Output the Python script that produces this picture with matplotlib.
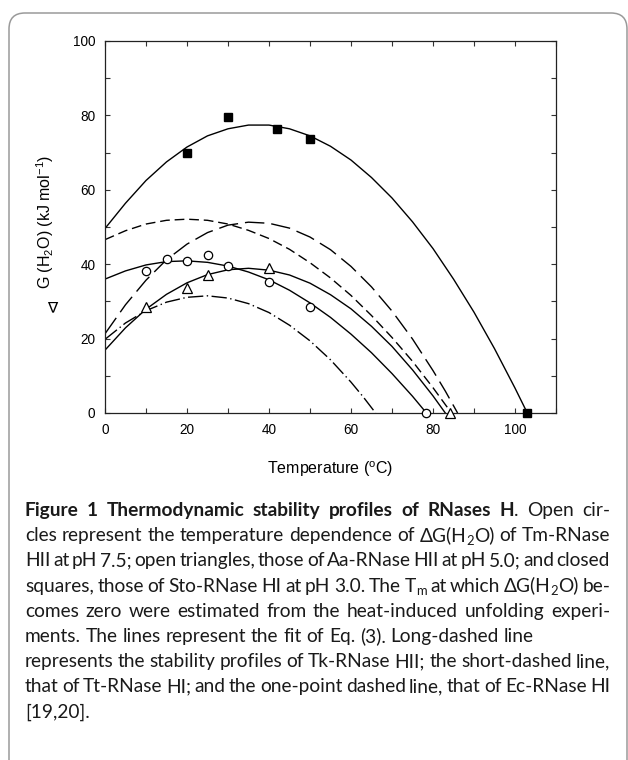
import re
import matplotlib
matplotlib.use("Agg")
import matplotlib.pyplot as plt
from matplotlib.patches import FancyBboxPatch
from matplotlib.transforms import IdentityTransform

plt.rcParams["font.family"] = ["Liberation Sans", "DejaVu Sans"]
plt.rcParams["mathtext.fontset"] = "custom"
plt.rcParams["mathtext.rm"] = "Liberation Sans"
plt.rcParams["mathtext.it"] = "Liberation Sans:italic"
plt.rcParams["mathtext.bf"] = "Liberation Sans:bold"

# measured points
tm_t = [10, 15, 20, 25, 30, 40, 50, 78.4]
tm_g = [38.3, 41.4, 40.9, 42.4, 39.4, 35.2, 28.4, 0]
aa_t = [10, 20, 25, 40, 84.1]
aa_g = [28.4, 33.6, 37.0, 39.0, 0]
sto_t = [20, 30, 42, 50, 103]
sto_g = [70.0, 79.7, 76.3, 73.6, 0]

# fitted profiles
sto_fit_t = [0, 5, 10, 15, 20, 25, 30, 35, 40, 45, 50, 55, 60, 65, 70, 75, 80, 85, 90, 95, 100, 103]
sto_fit_g = [49.6, 56.4, 62.5, 67.5, 71.5, 74.5, 76.4, 77.4, 77.4, 76.4, 74.5, 71.7,
             68.0, 63.3, 57.8, 51.4, 44.2, 36.0, 27.1, 17.3, 6.7, 0]
tm_fit_t = [0, 5, 10, 15, 20, 25, 30, 35, 40, 45, 50, 55, 60, 65, 70, 75, 78.4]
tm_fit_g = [36.0, 38.2, 39.8, 40.7, 40.9, 40.5, 39.5, 37.9, 35.8, 33.0, 29.6, 25.7,
            21.2, 16.2, 10.6, 4.5, 0]
aa_fit_t = [0, 5, 10, 15, 20, 25, 30, 35, 40, 45, 50, 55, 60, 65, 70, 75, 80, 83]
aa_fit_g = [16.9, 22.9, 27.9, 31.9, 35.0, 37.2, 38.5, 38.9, 38.4, 37.1, 34.9, 31.8,
            28.0, 23.3, 17.9, 11.6, 4.6, 0]
tk_fit_t = [0, 5, 10, 15, 20, 25, 30, 35, 40, 45, 50, 55, 60, 65, 70, 75, 80, 83, 86]
tk_fit_g = [21.3, 29.1, 35.7, 41.2, 45.4, 48.5, 50.5, 51.3, 51.0, 49.7, 47.3, 43.9,
            39.4, 33.9, 27.4, 19.9, 11.4, 5.9, 0]
tt_fit_t = [0, 5, 10, 15, 20, 25, 30, 35, 40, 45, 50, 55, 60, 65, 70, 75, 80, 84.5]
tt_fit_g = [46.6, 49.0, 50.8, 51.8, 52.1, 51.8, 50.8, 49.1, 46.9, 44.0, 40.4, 36.3,
            31.6, 26.2, 20.3, 13.9, 6.8, 0]
ec_fit_t = [0, 5, 10, 15, 20, 25, 30, 35, 40, 45, 50, 55, 60, 63, 66]
ec_fit_g = [19.8, 24.2, 27.5, 29.8, 31.1, 31.5, 30.9, 29.4, 27.0, 23.6, 19.4, 14.3, 8.3, 4.3, 0]

caption = [
    ("justify", "<b>Figure 1 Thermodynamic stability profiles of RNases H</b>. Open cir-"),
    ("justify", "cles represent the temperature dependence of ΔG(H<sub>2</sub>O) of Tm-RNase"),
    ("justify", "HII at pH 7.5; open triangles, those of Aa-RNase HII at pH 5.0; and closed"),
    ("justify", "squares, those of Sto-RNase HI at pH 3.0. The T<sub>m</sub> at which ΔG(H<sub>2</sub>O) be-"),
    ("justify", "comes zero were estimated from the heat-induced unfolding experi-"),
    ("left", "ments. The lines represent the fit of Eq. (3). Long-dashed line"),
    ("justify", "represents the stability profiles of Tk-RNase HII; the short-dashed line,"),
    ("justify", "that of Tt-RNase HI; and the one-point dashed line, that of Ec-RNase HI"),
    ("left", "[19,20]."),
]

W, H = 628, 760
fig = plt.figure(figsize=(W / 100, H / 100), dpi=100)

frame = FancyBboxPatch((9, -30), 618, H - 13 + 30, boxstyle="round,pad=0,rounding_size=16",
                       transform=IdentityTransform(), facecolor="none",
                       edgecolor="#9a9a9a", linewidth=1.1)
fig.add_artist(frame)

ax = fig.add_axes([105 / W, 1 - 413 / H, 451 / W, 372 / H])

lw = 1.0
ax.plot(sto_fit_t, sto_fit_g, color="black", lw=lw)
ax.plot(tm_fit_t, tm_fit_g, color="black", lw=lw)
ax.plot(aa_fit_t, aa_fit_g, color="black", lw=lw)
ax.plot(tk_fit_t, tk_fit_g, color="black", lw=lw, linestyle=(0, (14, 5)))
ax.plot(tt_fit_t, tt_fit_g, color="black", lw=lw, linestyle=(0, (7, 3.5)))
ax.plot(ec_fit_t, ec_fit_g, color="black", lw=lw, linestyle=(0, (11, 2.5, 1, 2.5)))

ax.plot(tm_t, tm_g, "o", ms=6, mfc="white", mec="black", mew=0.9, clip_on=False, zorder=5)
ax.plot(aa_t, aa_g, "^", ms=7, mfc="white", mec="black", mew=0.9, clip_on=False, zorder=5)
ax.plot(sto_t, sto_g, "s", ms=5.5, mfc="black", mec="black", clip_on=False, zorder=5)

ax.set_xlim(0, 110)
ax.set_ylim(0, 100)
ax.set_xticks(range(0, 111, 10))
ax.set_xticklabels([str(v) if v % 20 == 0 else "" for v in range(0, 111, 10)])
ax.set_yticks(range(0, 101, 10))
ax.set_yticklabels([str(v) if v % 20 == 0 else "" for v in range(0, 101, 10)])
ax.tick_params(direction="in", top=True, right=True, length=3.6, width=0.8,
               labelsize=9.8, color="#333333")
ax.tick_params(axis="y", pad=7)
ax.tick_params(axis="x", pad=7)
for s in ax.spines.values():
    s.set_linewidth(0.9)
    s.set_color("#222222")

fig.text(330 / W, 1 - 469 / H, r"Temperature ($^{\mathrm{o}}$C)", ha="center", va="center",
         fontsize=11.5)
fig.text(45 / W, 1 - 222 / H, r"G (H$_2$O) (kJ mol$^{-1}$)", rotation=90,
         ha="center", va="center", fontsize=11.5)
fig.text(52 / W, 1 - 308 / H, "∇", ha="center", va="center", fontsize=11)

# caption, laid out word by word so the lines can be justified
cap_font = ["Lato", "DejaVu Sans"]
renderer = fig.canvas.get_renderer()


def parse(line):
    words = [[]]
    bold = sub = False
    for part in re.split(r"(</?b>|</?sub>)", line):
        if part in ("<b>", "</b>"):
            bold = part == "<b>"
            continue
        if part in ("<sub>", "</sub>"):
            sub = part == "<sub>"
            continue
        for k, p in enumerate(part.split(" ")):
            if k > 0:
                words.append([])
            if p:
                words[-1].append((p, bold, sub))
    return [w for w in words if w]


def run_width(s, bold, sub, size):
    t = fig.text(0, 0, s, fontsize=size * (0.68 if sub else 1), family=cap_font,
                 weight="bold" if bold else "normal")
    w = t.get_window_extent(renderer).width
    t.remove()
    return w


def word_width(word, size):
    return sum(run_width(s, b, sb, size) for s, b, sb in word)


x0, x1 = 25, 610
# size chosen so the unjustified line matches its width in the reference
probe = parse(caption[5][1])
sp10 = run_width("x x", False, False, 10) - run_width("xx", False, False, 10)
nat10 = sum(word_width(w, 10) for w in probe) + sp10 * (len(probe) - 1)
cap_size = 10 * 512 / nat10
space = sp10 * cap_size / 10

for i, (mode, line) in enumerate(caption):
    words = parse(line)
    widths = [word_width(w, cap_size) for w in words]
    gap = space
    if mode == "justify" and len(words) > 1:
        gap = (x1 - x0 - sum(widths)) / (len(words) - 1)
    y = 516 + 25.2 * i
    x = x0
    for w, ww in zip(words, widths):
        for s, b, sb in w:
            size = cap_size * (0.68 if sb else 1)
            fig.text(x / W, 1 - (y + (3.5 if sb else 0)) / H, s, fontsize=size,
                     family=cap_font, weight="bold" if b else "normal",
                     ha="left", va="baseline", color="#1a1a1a")
            x += run_width(s, b, sb, cap_size)
        x += gap

fig.savefig("out.png", dpi=100)
